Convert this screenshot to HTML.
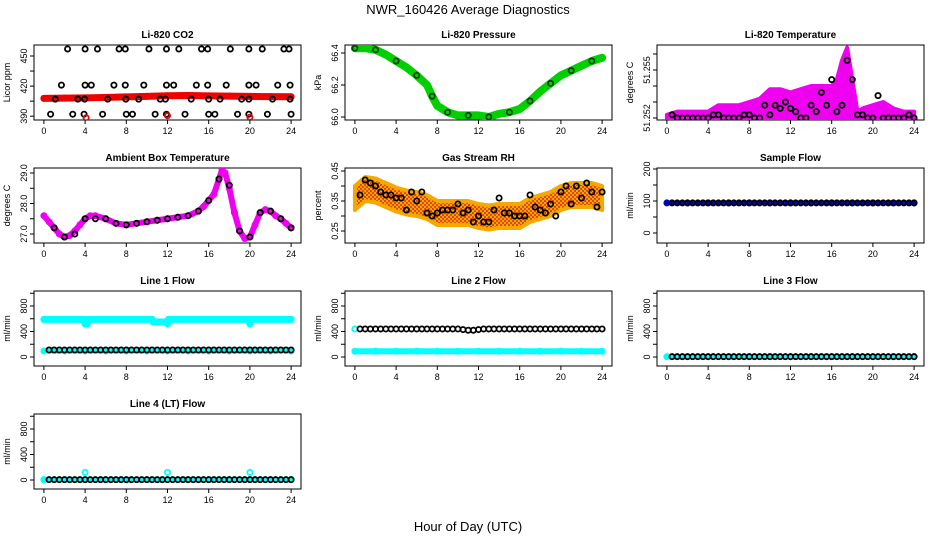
<!DOCTYPE html>
<html><head><meta charset="utf-8"><style>
body{margin:0;background:#fff;}
svg{display:block;font-family:"Liberation Sans",sans-serif;}
</style></head><body>
<svg id="c" width="936" height="540" viewBox="0 0 936 540">
<defs><pattern id="rhpat" width="4" height="4" patternUnits="userSpaceOnUse"><rect width="4" height="4" fill="#f5a800"/><circle cx="1" cy="1" r="0.9" fill="#e00000"/><circle cx="3" cy="3" r="0.9" fill="#e00000"/></pattern></defs>
<text x="468" y="14" text-anchor="middle" font-size="13">NWR_160426  Average Diagnostics</text>
<text x="468" y="531" text-anchor="middle" font-size="13">Hour of Day (UTC)</text>
</svg>
<script>
// ---- data ----
const xTicks=[0,4,8,12,16,20,24];
const HRS=[0.5,1,1.5,2,2.5,3,3.5,4,4.5,5,5.5,6,6.5,7,7.5,8,8.5,9,9.5,10,10.5,11,11.5,12,12.5,13,13.5,14,14.5,15,15.5,16,16.5,17,17.5,18,18.5,19,19.5,20,20.5,21,21.5,22,22.5,23,23.5,24];
const lineX=[0,2,4,6,8,10,12,14,16,18,20,22,24];
const co2Red=[407.8,408,408.3,408.7,409.2,409.8,410.4,410.6,410.3,410,409.7,409.5,409.4];
const co2BlackX=[2.3,4,5.2,7.3,7.9,10.2,11.9,13.1,15.3,15.9,18.1,19.9,21.2,23.3,23.8,1.7,4,4.6,6.8,7.9,9.7,11.9,12.6,14.8,15.9,17.7,19.9,20.6,22.7,23.9,1.1,3.3,3.96,6.2,7.95,9.2,11.3,11.8,14.3,16,17.1,19.2,19.9,22.2,23.9,0.65,2.8,3.9,5.7,8,8.6,10.8,11.9,13.7,16,16.6,18.8,19.9,21.7,24];
const co2BlackY=[457,457,457,457,457,457,457,457,457,457,457,457,457,457,457,421,421,421,421,421,421,421,421,421,421,421,421,421,421,421,407,407,407,407,407,407,407,407,407,407,407,407,407,407,407,392,392,392,392,392,392,392,392,392,392,392,392,392,392,392];
const co2RedX=[4.1,12,20];
const co2RedY=[388.5,390.5,389];
const presX=[0,1,2,3,4,5,6,7,7.5,8,9,10,11,12,13,14,15,16,17,18,19,20,21,22,23,24];
const presY=[66.43,66.43,66.42,66.39,66.35,66.31,66.26,66.2,66.13,66.07,66.03,66.01,66.01,66.01,66.0,66.02,66.03,66.05,66.1,66.16,66.21,66.26,66.29,66.32,66.35,66.37];
const ltX=[0,1,2,3,4,5,6,7,8,9,10,11,12,13,14,15,16,16.5,17,17.5,18,18.5,19,20,21,22,23,24];
const ltMax=[0.0001,0.0002,0.0002,0.0002,0.0002,0.0004,0.0004,0.0004,0.0005,0.0006,0.0009,0.0009,0.0008,0.0009,0.0010,0.0010,0.0010,0.0012,0.0018,0.0022,0.0012,0.0002,0.0003,0.0004,0.0005,0.0003,0.0002,0.0002];
const ltBlack=[0.0001,0,0,0,0,0,0,0,0.0001,0.0001,0,0,0,0,0.0001,0.0001,0,0,0.0004,0.0001,0.0004,0.0003,0.0005,0.0003,0.0002,0,0,0.0004,0.0002,0.0008,0.0004,0.0012,0.0002,0.0004,0.0018,0.0012,0.0001,0.0001,0,0,0.0007,0,0,0,0,0,0.0001,0];
const ambX=[0,0.5,1,1.5,2,2.5,3,3.5,4,4.5,5,6,7,8,9,10,11,12,13,14,15,15.5,16,16.5,17,17.3,17.6,18,18.5,19,19.5,20,20.5,21,21.5,22,22.5,23,23.5,24];
const ambY=[27.6,27.4,27.2,27.0,26.9,26.95,27.1,27.3,27.5,27.6,27.6,27.5,27.35,27.3,27.35,27.4,27.45,27.5,27.55,27.6,27.75,27.9,28.1,28.3,28.8,29.1,29.0,28.5,27.7,27.1,26.85,26.9,27.3,27.7,27.8,27.75,27.6,27.5,27.35,27.2];
const ambBlackX=[1,2,3,4,5,6,7,8,9,10,11,12,13,14,15,16,17,18,19,20,21,22,23,24];
const ambBlackY=[27.2,26.9,27.0,27.5,27.5,27.5,27.35,27.3,27.35,27.4,27.45,27.5,27.55,27.6,27.75,28.1,28.8,28.6,27.1,26.9,27.7,27.75,27.5,27.2];
const rhX=[0,1,2,3,4,5,6,7,8,9,10,11,12,13,14,15,16,17,18,19,20,21,22,23,24];
const rhMid=[0.36,0.39,0.385,0.37,0.355,0.345,0.34,0.33,0.31,0.31,0.31,0.31,0.30,0.295,0.30,0.30,0.30,0.32,0.33,0.34,0.36,0.37,0.37,0.37,0.36];
const rhBlack=[0.37,0.42,0.41,0.40,0.38,0.37,0.37,0.36,0.36,0.32,0.38,0.35,0.38,0.31,0.30,0.31,0.32,0.32,0.32,0.34,0.31,0.32,0.28,0.30,0.28,0.28,0.32,0.36,0.31,0.31,0.30,0.30,0.30,0.37,0.33,0.32,0.31,0.34,0.30,0.38,0.40,0.34,0.40,0.36,0.41,0.38,0.33,0.38];
const sampleY=[94,94,94,94,94,94,94,94,94,94,94,94,94,94,94,94,94,94,94,94,94,94,94,94,94,94,94,94,94,94,94,94,94,94,94,94,94,94,94,94,94,94,94,94,94,94,94,94];
const l1HighX=[0,3.9,4.0,4.2,4.3,10.5,10.6,11.9,12.0,12.1,19.8,19.9,20.0,20.1,24];
const l1HighY=[590,590,520,520,590,590,550,550,520,590,590,590,520,590,590];
const l1Low=[95,95,95,95,95,95,95,95,95,95,95,95,95];
const l1Black=[110,110,110,110,110,110,110,110,110,110,110,110,110,110,110,110,110,110,110,110,110,110,110,110,110,110,110,110,110,110,110,110,110,110,110,110,110,110,110,110,110,110,110,110,110,110,110,110];
const l2Low=[90,90,90,90,90,90,90,90,90,90,90,90,90];
const l2Black=[440,440,440,440,440,440,440,440,440,440,440,440,440,440,440,440,440,440,440,440,430,420,420,430,440,440,440,440,440,440,440,440,440,440,440,440,440,440,440,440,440,440,440,440,440,440,440,440];
const flatLow=[5,5,5,5,5,5,5,5,5,5,5,5,5];
const flatBlack=[5,5,5,5,5,5,5,5,5,5,5,5,5,5,5,5,5,5,5,5,5,5,5,5,5,5,5,5,5,5,5,5,5,5,5,5,5,5,5,5,5,5,5,5,5,5,5,5];
const l4BumpX=[0,4,12,20];
const l4BumpY=[5,120,120,120];

// ---- drawing ----
const svg=document.getElementById('c');
const NS='http://www.w3.org/2000/svg';
const colL=[34,345,657], rowT=[45,168,291,414], W=267, H=75;
function mk(tag,at,parent){const e=document.createElementNS(NS,tag);for(const k in at)e.setAttribute(k,at[k]);(parent||svg).appendChild(e);return e;}
function panel(c,r,title,ylab,yt,ylabels,v1,p1,v2,p2,name){
  const g=mk('g',{});
  
  
  const L=colL[c],T=rowT[r];
  const x0=L+9.9,xs=(W-19.8)/24;
  const X=v=>x0+v*xs;
  const Y=v=>p1+(v-v1)*(p2-p1)/(v2-v1);
  const t=mk('text',{x:L+W/2,y:T-7,'text-anchor':'middle','font-size':10,'font-weight':'bold'},g);t.textContent=title;
  
  
  const box=mk('rect',{x:L,y:T,width:W,height:H,fill:'none',stroke:'#000','stroke-width':1},g);
  
  
  const xa=mk('g',{},g);
  
  
  mk('line',{x1:X(0),x2:X(24),y1:T+H,y2:T+H,stroke:'#000'},xa);
  xTicks.forEach(v=>{mk('line',{x1:X(v),x2:X(v),y1:T+H,y2:T+H+4,stroke:'#000'},xa);
    const tx=mk('text',{x:X(v),y:T+H+14,'text-anchor':'middle','font-size':9},xa);tx.textContent=v;});
  const ya=mk('g',{},g);
  
  
  mk('line',{x1:L,x2:L,y1:Y(yt[0]),y2:Y(yt[yt.length-1]),stroke:'#000'},ya);
  yt.forEach((v,i)=>{const y=Y(v);mk('line',{x1:L-4,x2:L,y1:y,y2:y,stroke:'#000'},ya);
    if(ylabels[i]){const tx=mk('text',{x:L-7,y:y,'text-anchor':'middle','font-size':9,transform:`rotate(-90 ${L-7} ${y})`},ya);tx.textContent=ylabels[i];}});
  const yl=mk('text',{x:L-24,y:T+H/2,'text-anchor':'middle','font-size':9,transform:`rotate(-90 ${L-24} ${T+H/2})`},g);yl.textContent=ylab;
  
  
  const clip=mk('clipPath',{id:'cp'+name},g);mk('rect',{x:L,y:T,width:W,height:H},clip);
  const dg=mk('g',{'clip-path':`url(#cp${name})`},g);
  return {X,Y,g:dg};
}
function line(P,xs,ys,col,w,nm){const pts=xs.map((x,i)=>P.X(x)+','+P.Y(ys[i])).join(' ');
  const e=mk('polyline',{points:pts,fill:'none',stroke:col,'stroke-width':w,'stroke-linejoin':'round','stroke-linecap':'round'},P.g);
  
  
  xs.forEach((x,i)=>mk('circle',{cx:P.X(x),cy:P.Y(ys[i]),r:2.6,fill:'none',stroke:col,'stroke-width':1.8},P.g));}
function pts(P,xs,ys,col,nm){const g=mk('g',{},P.g);
  
  
  xs.forEach((x,i)=>mk('circle',{cx:P.X(x),cy:P.Y(ys[i]),r:2.6,fill:'none',stroke:col,'stroke-width':1.8},g));}
function band(P,xs,lo,hi,fill,nm){let d='M'+xs.map((x,i)=>P.X(x)+','+P.Y(hi[i])).join(' L');
  for(let i=xs.length-1;i>=0;i--)d+=' L'+P.X(xs[i])+','+P.Y(lo[i]);
  const e=mk('path',{d:d+'Z',fill:fill,stroke:fill==='url(#rhpat)'?'#f5a800':fill,'stroke-width':4,'stroke-linejoin':'round'},P.g);
  
  }

const flowT=[0,200,400,600,800,1000], flowL=['0','','400','','800',''];
let P;
P=panel(0,0,'Li-820 CO2','Licor ppm',[390,405,420,435,450],['390','','420','','450'],390,116.2,450,56.0,'co2');
line(P,lineX,co2Red,'#f00000',7,'co2-red-series');pts(P,co2BlackX,co2BlackY,'#000','co2-black-points');pts(P,co2RedX,co2RedY,'#f00000','co2-red-points');
P=panel(1,0,'Li-820 Pressure','kPa',[66.0,66.2,66.4],['66.0','66.2','66.4'],66.0,117,66.4,53,'pressure');
line(P,presX,presY,'#00d000',8,'pressure-series');pts(P,presX.filter((x,i)=>i%2==0),presY.filter((x,i)=>i%2==0),'#004000','pressure-black-points');
P=panel(2,0,'Li-820 Temperature','degrees C',[0,0.0005,0.001,0.0015,0.002],['51.252','','','51.255',''],0,118,0.0005,102,'li-temp');
band(P,ltX,ltX.map(()=>0),ltMax,'#f000f0','li-temp-series');pts(P,HRS,ltBlack,'#000','li-temp-black-points');
P=panel(0,1,'Ambient Box Temperature','degrees C',[27,27.5,28,28.5,29],['27.0','','28.0','','29.0'],27,234,29,173,'ambient');
line(P,ambX,ambY,'#f000f0',6,'ambient-series');pts(P,ambBlackX,ambBlackY,'#000','ambient-black-points');
P=panel(1,1,'Gas Stream RH','percent',[0.25,0.3,0.35,0.4,0.45],['0.25','','0.35','','0.45'],0.25,231,0.45,171,'rh');
band(P,rhX,rhMid.map(v=>v-0.04),rhMid.map(v=>v+0.04),'url(#rhpat)','rh-series');pts(P,HRS,rhBlack,'#000','rh-black-points');
P=panel(2,1,'Sample Flow','ml/min',[0,50,100,150,200],['0','','100','','200'],0,233,200,169,'sample-flow');
line(P,lineX,lineX.map((x,i)=>sampleY[i]),'#0000c0',4,'sample-flow-series');pts(P,HRS,sampleY,'#000','sample-flow-black-points');
P=panel(0,2,'Line 1 Flow','ml/min',flowT,flowL,0,357,800,306,'line1');
line(P,l1HighX,l1HighY,'#00ffff',7,'line1-high-series');line(P,lineX,l1Low,'#00ffff',5,'line1-low-series');pts(P,HRS,l1Black,'#000','line1-black-points');
P=panel(1,2,'Line 2 Flow','ml/min',flowT,flowL,0,357,800,306,'line2');
line(P,lineX,l2Low,'#00ffff',6,'line2-low-series');pts(P,[0],[440],'#00ffff','line2-start');pts(P,HRS,l2Black,'#000','line2-black-points');
P=panel(2,2,'Line 3 Flow','ml/min',flowT,flowL,0,357,800,306,'line3');
line(P,lineX,flatLow,'#00ffff',4,'line3-series');pts(P,HRS,flatBlack,'#000','line3-black-points');
P=panel(0,3,'Line 4 (LT) Flow','ml/min',flowT,flowL,0,480,800,429,'line4');
line(P,lineX,flatLow,'#00ffff',4,'line4-series');pts(P,l4BumpX,l4BumpY,'#00ffff','line4-bumps');pts(P,HRS,flatBlack,'#000','line4-black-points');
</script>
</body></html>
